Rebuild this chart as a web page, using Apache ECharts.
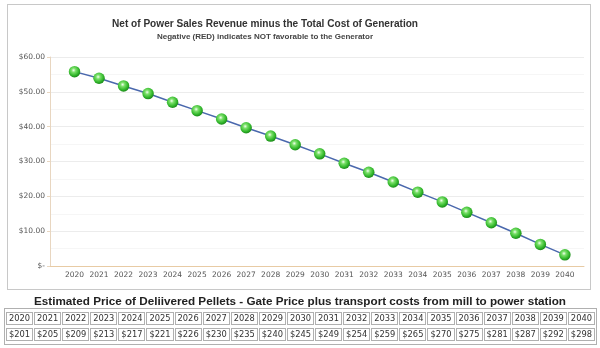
<!DOCTYPE html>
<html>
<head>
<meta charset="utf-8">
<script src="https://cdn.jsdelivr.net/npm/echarts@6/dist/echarts.min.js"></script>
<style>
  html, body { margin: 0; padding: 0; background: #fff; }
  #wrap { position: relative; width: 600px; height: 348px; overflow: hidden; font-family: "DejaVu Sans", Verdana, sans-serif; }
  #chart { position: absolute; left: 0; top: 0; width: 600px; height: 348px; }
  #frame { position: absolute; left: 7px; top: 4px; width: 582px; height: 284px; border: 1px solid #c8c8c8; pointer-events: none; }
  #ttl { position: absolute; left: 0; width: 600px; top: 294px; text-align: center; font-family: "Liberation Sans", Arial, sans-serif; font-weight: bold; font-size: 11.7px; color: #222; white-space: nowrap; }
  #tbl { position: absolute; left: 4px; top: 308px; border-collapse: separate; border-spacing: 1px 3px; border: 1px solid #b0b0b0; }
  #tbl td { border: 1px solid #b0b0b0; padding: 0; width: 25.1px; height: 11px; font-size: 8.3px; color: #333; text-align: center; line-height: 11px; white-space: nowrap; }
</style>
</head>
<body>
<div id="wrap">
  <div id="chart"></div>
  <div id="frame"></div>
  <div id="ttl"></div>
  <table id="tbl"><tbody><tr id="r1"></tr><tr id="r2"></tr></tbody></table>
</div>
<script>
const years = [2020,2021,2022,2023,2024,2025,2026,2027,2028,2029,2030,2031,2032,2033,2034,2035,2036,2037,2038,2039,2040];
const netValues = [55.8,53.9,51.7,49.5,47.0,44.6,42.2,39.7,37.3,34.8,32.2,29.5,26.9,24.1,21.2,18.4,15.4,12.4,9.4,6.2,3.2];
const pelletPrices = [201,205,209,213,217,221,226,230,235,240,245,249,254,259,265,270,275,281,287,292,298];
const yTicks = [0,10,20,30,40,50,60];
const chartTitle = 'Net of Power Sales Revenue minus the Total Cost of Generation';
const chartSubtitle = 'Negative (RED) indicates NOT favorable to the Generator';
const tableTitle = 'Estimated Price of Deliivered Pellets - Gate Price plus transport costs from mill to power station';

document.getElementById('ttl').textContent = tableTitle;
const r1 = document.getElementById('r1'), r2 = document.getElementById('r2');
years.forEach((y, i) => {
  const a = document.createElement('td'); a.textContent = y; r1.appendChild(a);
  const b = document.createElement('td'); b.textContent = '$' + pelletPrices[i]; r2.appendChild(b);
});

const chart = echarts.init(document.getElementById('chart'), null, {renderer: 'canvas'});
const font = '"DejaVu Sans", Verdana, sans-serif';
const tfont = '"Liberation Sans", Arial, sans-serif';
chart.setOption({
  animation: false,
  backgroundColor: 'transparent',
  title: [
    { text: chartTitle, left: 260, top: 14, textAlign: 'center',
      textStyle: { fontFamily: tfont, fontSize: 10.1, fontWeight: 'bold', color: '#333' } },
    { text: chartSubtitle, left: 260, top: 28, textAlign: 'center',
      textStyle: { fontFamily: tfont, fontSize: 8, fontWeight: 'bold', color: '#444' } }
  ],
  grid: { left: 50, right: 16, top: 57, bottom: 82, containLabel: false },
  xAxis: {
    type: 'value', min: years[0] - 1, max: years[years.length - 1] + 0.78, interval: 1,
    axisLine: { show: true, lineStyle: { color: '#e8cba4', width: 1 } },
    axisTick: { show: false },
    splitLine: { show: false },
    axisLabel: { fontFamily: font, fontSize: 7.5, color: '#555', margin: 5,
      formatter: v => (Number.isInteger(v) && years.indexOf(v) >= 0) ? String(v) : '' }
  },
  yAxis: {
    type: 'value', min: yTicks[0], max: yTicks[yTicks.length - 1], interval: 10,
    axisLine: { show: true, lineStyle: { color: '#e8d6c0', width: 1 } },
    axisTick: { show: true, length: 3, lineStyle: { color: '#e8d6c0' } },
    splitLine: { show: true, lineStyle: { color: '#ececec', width: 1 } },
    minorTick: { show: false, splitNumber: 2 },
    minorSplitLine: { show: true, lineStyle: { color: '#f6f6f6', width: 1 } },
    axisLabel: { fontFamily: font, fontSize: 7.5, color: '#555', margin: 5,
      formatter: v => v === 0 ? '$-' : '$' + v.toFixed(2) }
  },
  series: [{
    type: 'line',
    data: years.map((y, i) => [y, netValues[i]]),
    lineStyle: { color: '#4a68ad', width: 1.5 },
    symbol: 'circle', symbolSize: 11.5,
    itemStyle: {
      color: new echarts.graphic.RadialGradient(0.42, 0.38, 0.6, [
        { offset: 0, color: '#f2fff0' },
        { offset: 0.3, color: '#7be06a' },
        { offset: 0.75, color: '#33b82c' },
        { offset: 1, color: '#1e8f1c' }
      ]),
      borderWidth: 0
    },
    z: 3
  }]
});
</script>
</body>
</html>
